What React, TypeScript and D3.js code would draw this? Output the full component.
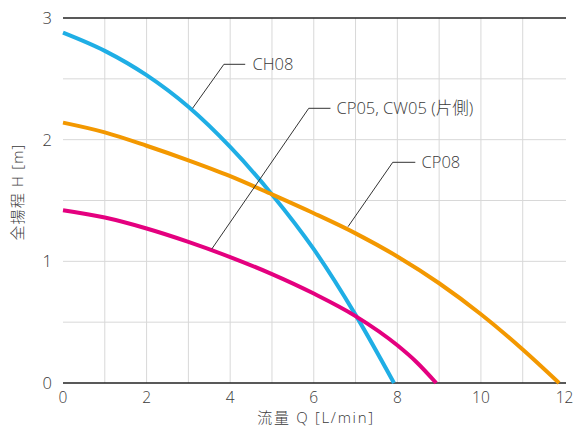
import React from "react";
import * as d3 from "d3";

const ch08Q = [0, 1, 2, 3, 4, 5, 6, 7, 7.92];
const ch08H = [2.88, 2.73, 2.53, 2.27, 1.94, 1.55, 1.1, 0.56, 0];
const cp08Q = [0, 1, 2, 3, 4, 5, 6, 7, 8, 9, 10, 11, 11.87];
const cp08H = [2.14, 2.06, 1.95, 1.83, 1.7, 1.55, 1.395, 1.23, 1.04, 0.82, 0.565, 0.275, 0];
const cp05Q = [0, 1, 2, 3, 4, 5, 6, 7, 8, 8.45, 8.93];
const cp05H = [1.42, 1.36, 1.27, 1.16, 1.035, 0.895, 0.735, 0.55, 0.31, 0.175, 0];

const xTicks = [0, 2, 4, 6, 8, 10, 12];
const yTicks = [0, 1, 2, 3];
const xGrid = [1, 2, 3, 4, 5, 6, 7, 8, 9, 10, 11];
const yGrid = [0.5, 1, 1.5, 2, 2.5];
const seriesNames = ["CH08", "CP05, CW05 (片側)", "CP08"];

const FONT = "'Open Sans', 'Noto Sans CJK JP', sans-serif";

export default function App() {
  const W = 574, H = 428;
  const x = d3.scaleLinear().domain([0, 12]).range([63, 564.5]);
  const y = d3.scaleLinear().domain([0, 3]).range([383, 18]);
  const line = d3
    .line<[number, number]>()
    .x((d) => x(d[0]))
    .y((d) => y(d[1]))
    .curve(d3.curveMonotoneX);
  const series = [
    { q: ch08Q, h: ch08H, color: "#1FAEE5" },
    { q: cp08Q, h: cp08H, color: "#F39800" },
    { q: cp05Q, h: cp05H, color: "#E4007F" },
  ];
  const leaders = [
    { pts: [[3.10, y.invert(108.3)], [3.85, y.invert(64.3)], [4.36, y.invert(64.3)]], text: seriesNames[0], tx: 252.5, ty: 64.3 },
    { pts: [[3.56, y.invert(249)], [5.88, y.invert(108.3)], [6.40, y.invert(108.3)]], text: seriesNames[1], tx: 336.5, ty: 108.3 },
    { pts: [[6.82, y.invert(226.7)], [7.89, y.invert(162.3)], [8.43, y.invert(162.3)]], text: seriesNames[2], tx: 421.5, ty: 162.3 },
  ];
  const tc = "#3a3a3a";
  return (
    <svg width={W} height={H} style={{ position: "absolute", left: 0, top: 0 }} fontFamily={FONT} fontWeight={300}>
      <rect width={W} height={H} fill="#fff" />
      {xGrid.map((g) => (
        <line key={"xg" + g} x1={x(g)} x2={x(g)} y1={y(3)} y2={y(0)} stroke="#d8d8d8" strokeWidth={1} />
      ))}
      {yGrid.map((g) => (
        <line key={"yg" + g} x1={x(0)} x2={566} y1={y(g)} y2={y(g)} stroke="#d8d8d8" strokeWidth={1} />
      ))}
      <line x1={x(0)} x2={566} y1={y(3)} y2={y(3)} stroke="#222" strokeWidth={1.3} />
      <line x1={x(0)} x2={566} y1={y(0)} y2={y(0)} stroke="#222" strokeWidth={1.3} />
      {series.map((s, i) => (
        <path
          key={i}
          d={line(s.q.map((q, j) => [q, s.h[j]] as [number, number])) || ""}
          fill="none"
          stroke={s.color}
          strokeWidth={4}
        />
      ))}
      {leaders.map((l, i) => (
        <g key={"l" + i}>
          <polyline
            points={l.pts.map((p) => `${x(p[0])},${y(p[1])}`).join(" ")}
            fill="none"
            stroke="#333"
            strokeWidth={1}
          />
          <text x={l.tx} y={l.ty} dy="0.36em" fontSize={16.5} fill={tc}>
            {l.text}
          </text>
        </g>
      ))}
      {xTicks.map((t) => (
        <text key={"xt" + t} x={x(t)} y={397} dy="0.36em" textAnchor="middle" fontSize={15.5} fill={tc}>
          {t}
        </text>
      ))}
      {yTicks.map((t) => (
        <text key={"yt" + t} x={52} y={y(t)} dy="0.36em" textAnchor="end" fontSize={16.5} fill={tc}>
          {t}
        </text>
      ))}
      <text x={316} y={417.5} dy="0.36em" textAnchor="middle" fontSize={15} letterSpacing={1.7} fill={tc}>
        流量 Q [L/min]
      </text>
      <text
        transform={`translate(18,192) rotate(-90)`}
        dy="0.36em"
        textAnchor="middle"
        fontSize={15}
        letterSpacing={1.2}
        fill={tc}
      >
        全揚程 H [m]
      </text>
    </svg>
  );
}
